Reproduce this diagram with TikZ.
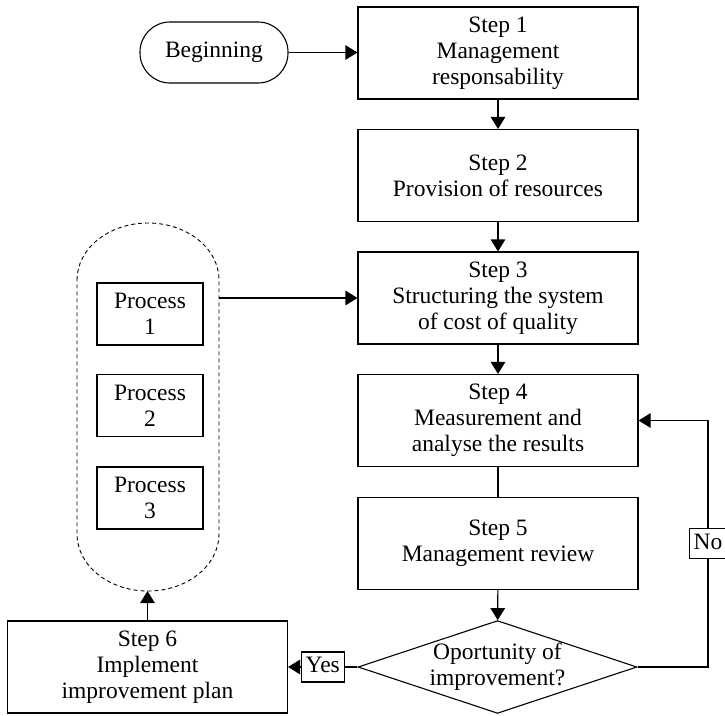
\documentclass[tikz,border=0pt]{standalone}
\usepackage{fontspec}
\setmainfont{Liberation Serif}
\usetikzlibrary{shapes.geometric,arrows.meta}
\begin{document}
\begin{tikzpicture}[x=1pt,y=-1pt,
  every node/.style={font=\fontsize{23.5}{26}\selectfont},
  stepbox/.style={draw, line width=1.1pt, minimum width=280pt, minimum height=92pt, align=center, inner sep=0pt},
  procbox/.style={draw, line width=1.1pt, minimum width=106pt, minimum height=62pt, align=center, inner sep=0pt},
  startbox/.style={draw, line width=1.1pt, rounded corners=30pt, minimum width=148pt, minimum height=61pt},
  decision/.style={draw, diamond, aspect=3, line width=1.1pt, minimum width=279pt, minimum height=92pt, inner sep=0pt, align=center},
  lbl/.style={draw, fill=white, line width=1.1pt, inner xsep=4.5pt, inner ysep=4.5pt, text height=16pt, text depth=5pt},
  arr/.style={line width=1.1pt, -{Triangle[length=12pt,width=14.5pt]}},
  ln/.style={line width=1.1pt},
  grp/.style={line width=0.9pt, dash pattern=on 4pt off 3pt}
]
\useasboundingbox (0,0) rectangle (725,715);
\fill[white] (0,0) rectangle (725,715);

\node[startbox] (begin) at (214,52.5) {Beginning};
\node[stepbox] (s1) at (498,53) {Step 1\\Management\\responsability};
\node[stepbox] (s2) at (498,175.5) {Step 2\\Provision of resources};
\node[stepbox] (s3) at (498,298) {Step 3\\Structuring the system\\of cost of quality};
\node[stepbox] (s4) at (498,420.5) {Step 4\\Measurement and\\analyse the results};
\node[stepbox] (s5) at (498,543.5) {Step 5\\Management review};
\node[decision] (dec) at (497.5,667) {Oportunity of\\improvement?};
\node[stepbox] (s6) at (147.5,667) {Step 6\\Implement\\improvement plan};

\node[procbox] (p1) at (150,314) {Process\\1};
\node[procbox] (p2) at (150,405.5) {Process\\2};
\node[procbox] (p3) at (150,498) {Process\\3};

\draw[grp] (77,280) arc[start angle=180, end angle=0, x radius=71pt, y radius=57pt]
  -- (219,534) arc[start angle=0, end angle=-180, x radius=71pt, y radius=57pt] -- cycle;
\coordinate (grpE) at (219,298);
\coordinate (grpS) at (148,591);
\coordinate (noX) at (708,0);

\draw[arr] (begin.east) -- (begin.east -| s1.west);
\draw[arr] (s1) -- (s2);
\draw[arr] (s2) -- (s3);
\draw[arr] (s3) -- (s4);
\draw[ln] (s4) -- (s5);
\draw[arr] (s5) -- (dec);
\draw[arr] (grpE) -- (grpE -| s3.west);
\draw[arr] (s6.north) -- (s6.north |- grpS);
\draw[arr] (dec.west) -- node[lbl] {Yes} (s6.east);
\draw[arr] (dec.east) -- (dec.east -| noX) -- node[lbl] {No} (s4.east -| noX) -- (s4.east);
\end{tikzpicture}
\end{document}
